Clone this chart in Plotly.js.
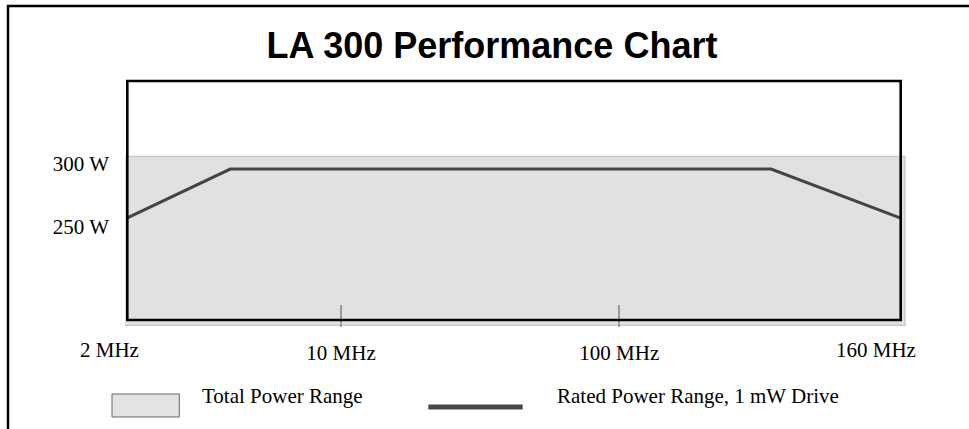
<!DOCTYPE html>
<html>
<head>
<meta charset="utf-8">
<script src="https://cdn.plot.ly/plotly-3.0.1.min.js"></script>
<style>html,body{margin:0;padding:0;background:#fff;}#chart{width:969px;height:429px;}</style>
</head>
<body>
<div id="chart"></div>
<script>
// ---- data ----
var ratedFreqMHz = [1.70, 4.0, 351, 1026];      // rated power line vertices
var ratedPowerW  = [257, 296, 296, 257];
var totalFreqMHz = [1.67, 1063];                // total power range extent
var totalPowerW  = [172, 306];                  // bottom, top
var xTickVals    = [10, 100];
var xTickText    = ['10 MHz', '100 MHz'];
var yTickVals    = [250, 300];
var yTickText    = ['250 W', '300 W'];
var edgeLabels   = ['2 MHz', '160 MHz'];
var legendLabels = ['Total Power Range', 'Rated Power Range, 1 mW Drive'];
var titleText    = 'LA 300 Performance Chart';

// ---- layout geometry (pixels) ----
var FW = 969, FH = 429;
var L = 125, R = 907, T = 80, B = 327;
var W = R - L, H = B - T;
function px(x){ return (x - L) / W; }
function py(y){ return (B - y) / H; }

var serif = 'Liberation Serif, Times New Roman, serif';

var totalX = [totalFreqMHz[0], totalFreqMHz[1], totalFreqMHz[1], totalFreqMHz[0], totalFreqMHz[0]];
var totalY = [totalPowerW[1], totalPowerW[1], totalPowerW[0], totalPowerW[0], totalPowerW[1]];

var traces = [
  {
    x: totalX, y: totalY, type: 'scatter', mode: 'lines',
    fill: 'toself', fillcolor: '#e1e1e1',
    line: {color: '#c6c6c6', width: 1.2},
    name: legendLabels[0], showlegend: false, hoverinfo: 'skip'
  },
  {
    x: ratedFreqMHz, y: ratedPowerW, type: 'scatter', mode: 'lines',
    line: {color: '#444444', width: 3},
    name: legendLabels[1], showlegend: false, hoverinfo: 'skip'
  }
];

var shapes = [
  // outer border (top + left)
  {type: 'path', xref: 'paper', yref: 'paper',
   path: 'M ' + px(8) + ' ' + py(FH + 10) + ' L ' + px(8) + ' ' + py(6) + ' L ' + px(FW + 10) + ' ' + py(6),
   line: {color: '#000', width: 2.5}, layer: 'above'},
  // plot frame
  {type: 'rect', xref: 'paper', yref: 'paper',
   x0: px(127.3), x1: px(900.7), y0: py(320), y1: py(81),
   line: {color: '#000', width: 2.6}, fillcolor: 'rgba(0,0,0,0)', layer: 'above'},
  // legend swatch: box
  {type: 'rect', xref: 'paper', yref: 'paper',
   x0: px(112), x1: px(179.3), y0: py(417), y1: py(394),
   line: {color: '#666', width: 1}, fillcolor: '#e3e3e3', layer: 'above'},
  // legend swatch: line
  {type: 'line', xref: 'paper', yref: 'paper',
   x0: px(428.3), x1: px(522.7), y0: py(407), y1: py(407),
   line: {color: '#4a4a4a', width: 5}, layer: 'above'}
];

var annotations = [
  {text: edgeLabels[0], xref: 'paper', yref: 'paper', x: px(109.5), y: py(350),
   xanchor: 'center', yanchor: 'middle', showarrow: false, font: {family: serif, size: 21, color: '#000'}},
  {text: edgeLabels[1], xref: 'paper', yref: 'paper', x: px(875.5), y: py(350),
   xanchor: 'center', yanchor: 'middle', showarrow: false, font: {family: serif, size: 21, color: '#000'}},
  {text: legendLabels[0], xref: 'paper', yref: 'paper', x: px(200), y: py(396),
   xanchor: 'left', yanchor: 'middle', showarrow: false, font: {family: serif, size: 21, color: '#000'}},
  {text: legendLabels[1], xref: 'paper', yref: 'paper', x: px(555), y: py(396),
   xanchor: 'left', yanchor: 'middle', showarrow: false, font: {family: serif, size: 21, color: '#000'}}
];

var layout = {
  width: FW, height: FH,
  paper_bgcolor: '#fff', plot_bgcolor: 'rgba(0,0,0,0)',
  margin: {l: L, r: FW - R, t: T, b: FH - B, pad: 0},
  showlegend: false,
  title: {
    text: '<b>' + titleText + '</b>',
    font: {family: 'Liberation Sans, Arial, sans-serif', size: 36, color: '#000'},
    xref: 'container', yref: 'container',
    x: 492 / FW, xanchor: 'center',
    y: 1 - 45 / FH, yanchor: 'middle'
  },
  xaxis: {
    type: 'log',
    range: [1 - (341 - L) / 278.3, 2 + (R - 619.3) / 278.3],
    tickmode: 'array', tickvals: xTickVals, ticktext: xTickText,
    ticks: 'inside', ticklen: 22, tickwidth: 2, tickcolor: '#9a9a9a',
    ticklabelstandoff: 11,
    tickfont: {family: serif, size: 21, color: '#000'},
    showgrid: false, zeroline: false, showline: false, fixedrange: true
  },
  yaxis: {
    range: [300 - (B - 164) / 1.26, 300 + (164 - T) / 1.26],
    tickmode: 'array', tickvals: yTickVals, ticktext: yTickText,
    ticks: '', ticklabelstandoff: 15,
    tickfont: {family: serif, size: 21, color: '#000'},
    showgrid: false, zeroline: false, showline: false, fixedrange: true
  },
  shapes: shapes,
  annotations: annotations
};

Plotly.newPlot('chart', traces, layout, {displayModeBar: false, staticPlot: true});
</script>
</body>
</html>
